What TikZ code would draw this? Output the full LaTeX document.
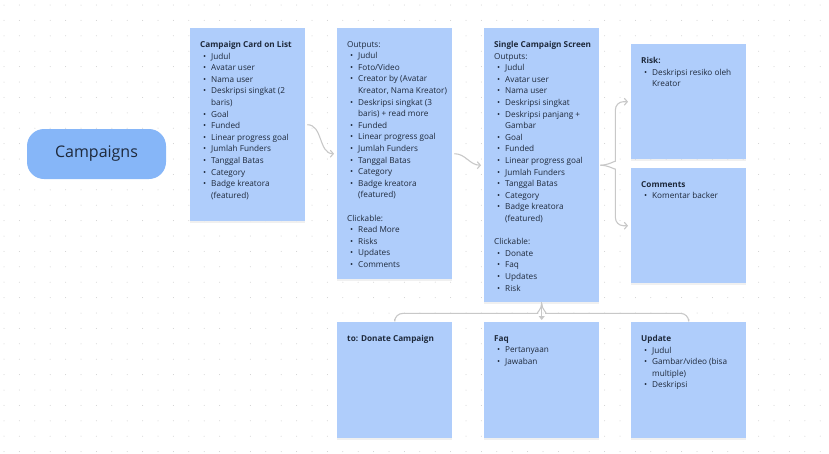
\documentclass[tikz,border=0pt]{standalone}
\usepackage{fontspec}
\setmainfont{Open Sans}
\usepackage{tikz}
\usetikzlibrary{arrows.meta,shadows}

\definecolor{cardblue}{RGB}{175,205,251}
\definecolor{pillblue}{RGB}{134,182,248}
\definecolor{ink}{RGB}{30,41,59}
\definecolor{linegray}{RGB}{200,200,200}
\definecolor{dotgray}{RGB}{205,205,205}

% bullet line and continuation line
\newcommand{\itm}{\hspace*{3pt}\makebox[8pt][l]{\textbullet}}
\newcommand{\cnt}{\hspace*{11pt}}

\begin{document}
\begin{tikzpicture}[
x=1pt, y=1pt,
card/.style={fill=cardblue, anchor=north west, inner sep=0pt, text=ink,
  font=\fontsize{8.2}{11.6}\selectfont,
  drop shadow={shadow xshift=0pt, shadow yshift=-1.5pt, opacity=0.12},
  execute at begin node={\begin{minipage}[t][#1][t]{115pt}\raggedright\leftskip=10pt\vspace*{13pt}},
  execute at end node={\end{minipage}}},
pill/.style={fill=pillblue, rounded corners=17pt, minimum width=139pt, minimum height=50pt,
  text=ink, font=\fontsize{16}{16}\selectfont},
link/.style={draw=linegray, line width=1.1pt},
conn/.style={link, -{Straight Barb[length=3pt,width=7pt]}}
]
\useasboundingbox (0,0) rectangle (829,-453);
% dotted canvas
\foreach \i in {0,...,53}
  \foreach \j in {0,...,29}
    \fill[dotgray] ({4+15.4*\i},{-5-15.4*\j}) circle (0.5pt);

\node[pill] (campaigns) at (96.5,-154) {Campaigns};

\node[card=193pt] (cardlist) at (190,-28) {\textbf{Campaign Card on List}\\
\itm Judul\\ \itm Avatar user\\ \itm Nama user\\ \itm Deskripsi singkat (2\\ \cnt baris)\\
\itm Goal\\ \itm Funded\\ \itm Linear progress goal\\ \itm Jumlah Funders\\
\itm Tanggal Batas\\ \itm Category\\ \itm Badge kreatora\\ \cnt (featured)};

\node[card=251pt] (outputs) at (337,-28) {Outputs:\\
\itm Judul\\ \itm Foto/Video\\ \itm Creator by (Avatar\\ \cnt Kreator, Nama Kreator)\\
\itm Deskripsi singkat (3\\ \cnt baris) + read more\\ \itm Funded\\ \itm Linear progress goal\\
\itm Jumlah Funders\\ \itm Tanggal Batas\\ \itm Category\\ \itm Badge kreatora\\ \cnt (featured)\\[11.6pt]
Clickable:\\ \itm Read More\\ \itm Risks\\ \itm Updates\\ \itm Comments};

\node[card=274pt] (single) at (484,-28) {\textbf{Single Campaign Screen}\\ Outputs:\\
\itm Judul\\ \itm Avatar user\\ \itm Nama user\\ \itm Deskripsi singkat\\
\itm Deskripsi panjang +\\ \cnt Gambar\\ \itm Goal\\ \itm Funded\\ \itm Linear progress goal\\
\itm Jumlah Funders\\ \itm Tanggal Batas\\ \itm Category\\ \itm Badge kreatora\\ \cnt (featured)\\[11.6pt]
Clickable:\\ \itm Donate\\ \itm Faq\\ \itm Updates\\ \itm Risk};

\node[card=115pt] (risk) at (631,-44) {\textbf{Risk:}\\ \itm Deskripsi resiko oleh\\ \cnt Kreator};
\node[card=115pt] (comments) at (631,-168) {\textbf{Comments}\\ \itm Komentar backer};

\node[card=116pt] (donate) at (337,-322) {\textbf{to: Donate Campaign}};
\node[card=116pt] (faq) at (484,-322) {\textbf{Faq}\\ \itm Pertanyaan\\ \itm Jawaban};
\node[card=116pt] (update) at (631,-322) {\textbf{Update}\\ \itm Judul\\ \itm Gambar/video (bisa\\ \cnt multiple)\\ \itm Deskripsi};

\draw[conn] ([xshift=2pt]cardlist.east) to[out=0,in=180] ([xshift=-3pt]outputs.west);
\draw[conn] ([xshift=2pt]outputs.east) to[out=0,in=180] ([xshift=-3pt]single.west);

% brace to the right
\draw[conn, rounded corners=8pt] ([xshift=1pt]single.east) to[out=0,in=-90] ++(15,12) |- ([xshift=-3pt]risk.west);
\draw[conn, rounded corners=8pt] ([xshift=1pt]single.east) to[out=0,in=90] ++(15,-12) |- ([xshift=-3pt]comments.west);

% brace below
\draw[link, rounded corners=8pt] ([yshift=-1pt]single.south) to[out=-90,in=0] ++(-12,-10) -| ([yshift=3pt]donate.north);
\draw[link, rounded corners=8pt] ([yshift=-1pt]single.south) to[out=-90,in=180] ++(12,-10) -| ([yshift=3pt]update.north);
\draw[link, -{Triangle[length=4pt,width=6pt]}] (single.south) -- ([yshift=2pt]faq.north);
\end{tikzpicture}
\end{document}
